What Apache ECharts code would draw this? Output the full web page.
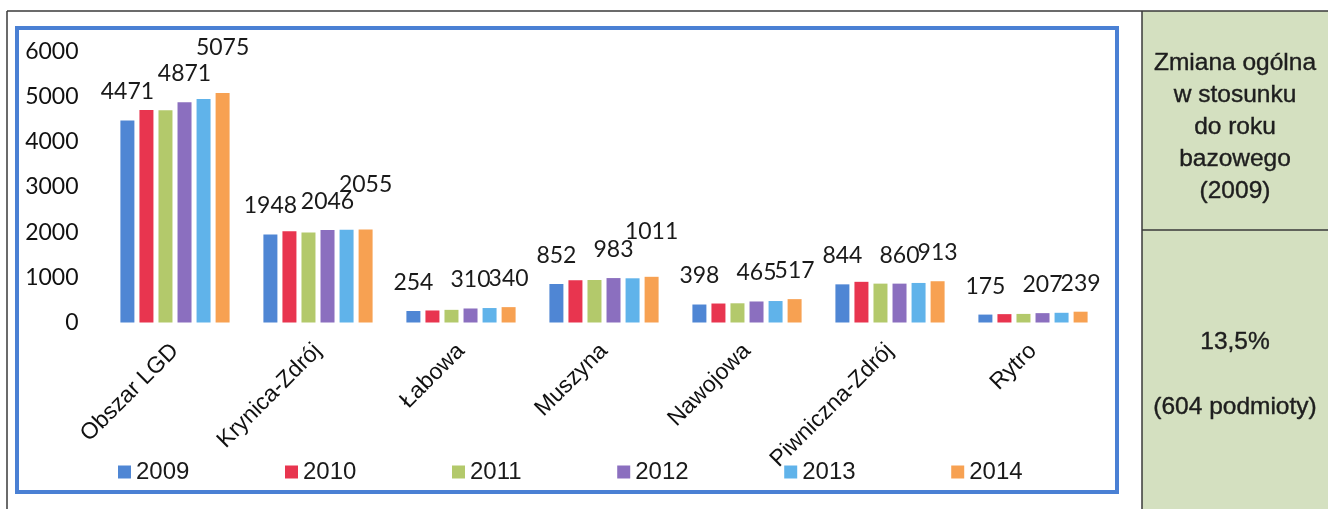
<!DOCTYPE html>
<html>
<head>
<meta charset="utf-8">
<script src="https://cdn.jsdelivr.net/npm/echarts@6/dist/echarts.min.js"></script>
<style>
html,body{margin:0;padding:0;background:#fff;}
#chart{width:1328px;height:509px;}
</style>
</head>
<body>
<div id="chart"></div>
<script>
// ---- data ----
const categories = ['Obszar LGD','Krynica-Zdrój','Łabowa','Muszyna','Nawojowa','Piwniczna-Zdrój','Rytro'];
const years = ['2009','2010','2011','2012','2013','2014'];
const v2009 = [4471,1948,254,852,398,844,175];
const v2010 = [4700,2020,266,935,420,900,185];
const v2011 = [4695,1990,280,940,425,860,190];
const v2012 = [4871,2046,310,983,465,860,207];
const v2013 = [4945,2050,320,978,475,875,215];
const v2014 = [5075,2055,340,1011,517,913,239];
const yTicks = [0,1000,2000,3000,4000,5000,6000];
const labeledYears = ['2009','2012','2014'];
const sideHeader = ['Zmiana ogólna','w stosunku','do roku','bazowego','(2009)'];
const sideValue = '13,5%';
const sideNote = '(604 podmioty)';

const seriesValues = [v2009,v2010,v2011,v2012,v2013,v2014];
const colors = ['#4f86d4','#e8354f','#b3c96b','#8b6fbf','#60b3ea','#f7a152'];

function fontAvailable(name){
  const c=document.createElement('canvas').getContext('2d');
  c.font='40px monospace'; const a=c.measureText('2009 Obszar LGD').width;
  c.font='40px "'+name+'", monospace'; const b=c.measureText('2009 Obszar LGD').width;
  return a!==b;
}
function textWidth(t, font){
  const c=document.createElement('canvas').getContext('2d');
  c.font=font; return c.measureText(t).width;
}
const hasNarrow = fontAvailable('Liberation Sans Narrow');
const legendFamily = hasNarrow ? 'Liberation Sans Narrow' : 'Liberation Sans';
const legendSize = hasNarrow ? 28 : 24;
const catSize = hasNarrow ? 28 : 23;
const legendTextW = textWidth('2009', legendSize+'px "'+legendFamily+'"');

const chart = echarts.init(document.getElementById('chart'), null, {renderer:'canvas'});

// label overlap emulation: 2014 labels lifted where they would collide with 2012 labels
function labelFor(yearIdx, catIdx){
  const y = years[yearIdx];
  if (labeledYears.indexOf(y) < 0) return {show:false};
  let distance = 17;
  if (y === '2014') {
    const w12 = String(v2012[catIdx]).length, w14 = String(v2014[catIdx]).length;
    if (w12 + w14 >= 7) distance = 34;
  }
  return {show:true, position:'top', distance:distance};
}

const series = years.map((y,i)=>({
  name:y, type:'bar', barWidth:14, barGap:'36%',
  itemStyle:{color:colors[i]},
  label:{show:false, fontFamily:'Lato', fontSize:23, color:'#1a1a1a'},
  data: seriesValues[i].map((v,ci)=>({value:v, label:labelFor(i,ci)}))
}));

const gx = 1142, gTop = 11, gMid = 230, cx = (1142+1328)/2;
const sideFont = '24.5px "Liberation Sans", Arial, sans-serif';
const graphics = [
  {type:'rect', shape:{x:gx, y:gTop, width:1328-gx, height:509-gTop}, style:{fill:'#d4e0c0'}, z:-10},
  {type:'line', shape:{x1:7, y1:gTop, x2:1328, y2:gTop}, style:{stroke:'#3a3a3a', lineWidth:1.5}},
  {type:'line', shape:{x1:7, y1:gTop, x2:7, y2:509}, style:{stroke:'#3a3a3a', lineWidth:1.5}},
  {type:'line', shape:{x1:gx, y1:gTop, x2:gx, y2:509}, style:{stroke:'#3a3a3a', lineWidth:1.5}},
  {type:'line', shape:{x1:gx, y1:gMid, x2:1328, y2:gMid}, style:{stroke:'#3a3a3a', lineWidth:1.5}},
  {type:'rect', shape:{x:17, y:28, width:1100, height:464}, style:{fill:null, stroke:'#4a80d4', lineWidth:4}}
];
sideHeader.forEach((t,i)=>{
  graphics.push({type:'text', x:cx, y:63+i*32, style:{text:t, textAlign:'center', textVerticalAlign:'middle',
    font:sideFont, fill:'#1e1e1e', stroke:'#1e1e1e', lineWidth:0.4}});
});
graphics.push({type:'text', x:cx, y:342, style:{text:sideValue, textAlign:'center', textVerticalAlign:'middle',
  font:sideFont, fill:'#1e1e1e', stroke:'#1e1e1e', lineWidth:0.4}});
graphics.push({type:'text', x:cx, y:407, style:{text:sideNote, textAlign:'center', textVerticalAlign:'middle',
  font:sideFont, fill:'#1e1e1e', stroke:'#1e1e1e', lineWidth:0.4}});

const option = {
  animation:false,
  backgroundColor:'#ffffff',
  color:colors,
  grid:{left:103.5, right:223.5, top:51.3, bottom:186.5, containLabel:false},
  legend:{
    data:years, icon:'rect', itemWidth:13, itemHeight:13, left:113, top:455,
    itemGap: 167-13-5-legendTextW,
    textStyle:{fontFamily:legendFamily, fontSize:legendSize, color:'#1a1a1a'}
  },
  xAxis:{
    type:'category', data:categories,
    axisLine:{show:false}, axisTick:{show:false},
    axisLabel:{rotate:45, interval:0, margin:25, fontFamily:legendFamily, fontSize:catSize, color:'#111'}
  },
  yAxis:{
    type:'value', min:yTicks[0], max:yTicks[yTicks.length-1], interval:yTicks[1]-yTicks[0],
    splitLine:{show:false}, axisLine:{show:false}, axisTick:{show:false},
    axisLabel:{margin:25, fontFamily:'Lato', fontSize:23, color:'#111', formatter:(v)=>String(v)}
  },
  graphic:graphics,
  series:series
};
chart.setOption(option);
</script>
</body>
</html>
